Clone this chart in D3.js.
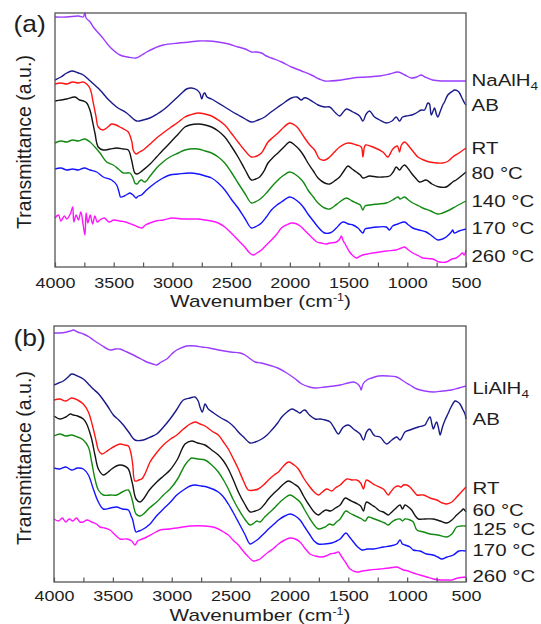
<!DOCTYPE html>
<html><head><meta charset="utf-8">
<script src="https://cdn.jsdelivr.net/npm/d3@7"></script>
<style>
body{margin:0;background:#fff}
svg{display:block}
text,tspan{font-family:"Liberation Sans",Arial,sans-serif;fill:#1e1e1e}
</style>
</head><body>
<svg id="chart" width="541" height="624"></svg>
<script>
// ---------- axis ticks ----------
const tickValues = [4000,3750,3500,3250,3000,2750,2500,2250,2000,1750,1500,1250,1000,750,500];
const tickLabels = [4000,3500,3000,2500,2000,1500,1000,500];

// ---------- panel (a) labels ----------
const labelsA = ["NaAlH4","AB","RT","80 °C","140 °C","170 °C","260 °C"];
// ---------- panel (b) labels ----------
const labelsB = ["LiAlH4","AB","RT","60 °C","125 °C","170 °C","260 °C"];

// ---------- panel (a) spectra: [wavenumber cm-1, transmittance a.u.] ----------
const naalh4A = [[4000,250],[3900,250],[3800,251],[3760,250],[3745,254],[3735,249],[3700,245],[3674,240],[3600,230],[3532,220],[3447,212],[3380,210],[3311,209],[3260,212],[3220,215],[3150,219],[3079,222],[2950,224],[2852,225],[2781,226],[2700,226],[2611,225],[2520,223],[2441,220],[2380,218],[2327,215],[2280,215],[2242,214],[2200,211],[2157,209],[2070,205],[1987,200],[1900,196],[1817,192],[1750,188],[1704,186],[1661,186],[1560,187],[1463,189],[1350,190],[1236,191],[1150,193],[1080,195],[1020,192],[966,189],[920,190],[881,192],[850,190],[785,187],[700,186],[600,186],[500,186]];
const abA = [[4000,187],[3950,190],[3900,194],[3858,196],[3800,194],[3759,192],[3700,186],[3617,177],[3550,168],[3475,160],[3390,154],[3305,146],[3250,147],[3192,149],[3130,153],[3079,157],[3020,163],[2965,169],[2920,174],[2880,178],[2837,179],[2790,177],[2767,174],[2750,168],[2735,173],[2724,174],[2705,170],[2667,168],[2610,164],[2554,160],[2500,156],[2441,152],[2380,148],[2327,145],[2270,147],[2214,150],[2160,155],[2101,160],[2040,165],[1987,169],[1940,170],[1902,167],[1880,169],[1859,169],[1800,165],[1760,162],[1704,160],[1661,160],[1610,154],[1576,151],[1545,155],[1519,158],[1463,155],[1406,151],[1378,146],[1350,153],[1321,156],[1279,150],[1236,147],[1179,144],[1130,146],[1094,150],[1066,146],[1040,150],[1009,151],[960,152],[924,154],[881,157],[853,157],[825,164],[811,163],[796,152],[780,156],[768,159],[750,152],[740,150],[715,157],[698,162],[683,165],[655,172],[613,176],[598,177],[570,176],[555,174],[530,168],[513,164],[500,162]];
const rtA = [[4000,183],[3950,184],[3900,183],[3850,185],[3800,184],[3760,185],[3730,183],[3700,178],[3674,164],[3650,150],[3632,140],[3589,137],[3550,140],[3518,143],[3480,142],[3447,140],[3400,137],[3376,135],[3345,125],[3334,117],[3311,113],[3280,115],[3249,117],[3200,122],[3135,129],[3080,134],[3022,139],[2950,145],[2894,150],[2852,152],[2781,154],[2724,153],[2667,151],[2610,147],[2554,142],[2500,134],[2441,125],[2380,116],[2327,110],[2280,111],[2242,114],[2186,125],[2140,130],[2101,134],[2050,140],[2001,144],[1960,142],[1931,139],[1874,129],[1830,122],[1789,117],[1746,108],[1700,107],[1661,110],[1620,115],[1576,120],[1505,124],[1434,122],[1392,120],[1378,110],[1365,120],[1355,122],[1293,120],[1208,115],[1166,110],[1123,118],[1085,121],[1066,115],[1050,122],[1023,125],[981,120],[940,114],[910,110],[860,107],[811,105],[750,104],[698,104],[650,106],[613,110],[560,114],[500,119]];
const t80A = [[4000,166],[3950,167],[3900,168],[3830,170],[3790,167],[3759,166],[3730,164],[3700,156],[3688,150],[3660,134],[3632,120],[3589,117],[3530,118],[3475,119],[3420,118],[3376,117],[3348,107],[3320,94],[3300,93],[3270,95],[3249,97],[3190,103],[3135,110],[3080,117],[3022,124],[2950,133],[2894,140],[2852,142],[2781,143],[2720,142],[2667,140],[2610,136],[2554,130],[2500,121],[2441,110],[2380,97],[2327,87],[2290,88],[2257,90],[2220,96],[2186,104],[2140,110],[2101,114],[2050,120],[2001,125],[1960,122],[1916,117],[1880,111],[1846,104],[1800,96],[1760,89],[1704,84],[1661,83],[1620,86],[1576,90],[1540,96],[1505,101],[1470,98],[1434,95],[1400,92],[1378,89],[1321,91],[1260,90],[1208,90],[1151,91],[1120,95],[1094,100],[1066,97],[1045,100],[1023,102],[990,98],[966,94],[930,89],[896,85],[839,87],[790,83],[726,80],[669,80],[613,85],[584,87],[540,91],[500,95]];
const t140A = [[4000,124],[3950,126],[3900,125],[3850,127],[3800,126],[3745,128],[3702,125],[3660,120],[3617,114],[3560,105],[3504,102],[3460,98],[3419,94],[3362,94],[3335,89],[3320,84],[3300,83],[3280,86],[3263,87],[3235,85],[3190,91],[3135,99],[3080,105],[3022,110],[2950,114],[2894,117],[2781,118],[2720,116],[2667,114],[2610,110],[2554,104],[2500,95],[2441,84],[2380,73],[2327,64],[2280,66],[2242,69],[2200,74],[2157,80],[2110,86],[2072,90],[2001,95],[1960,93],[1916,89],[1880,84],[1846,77],[1800,70],[1760,64],[1704,59],[1661,58],[1620,61],[1576,65],[1519,69],[1470,66],[1434,64],[1400,62],[1378,57],[1360,61],[1321,62],[1250,63],[1179,64],[1125,67],[1080,70],[1060,68],[1023,70],[990,67],[953,64],[900,61],[868,59],[800,56],[740,53],[700,54],[640,57],[580,61],[500,66]];
const t170A = [[4000,98],[3950,99],[3900,97],[3850,98],[3800,97],[3750,99],[3702,97],[3645,95],[3589,90],[3518,87],[3475,82],[3455,75],[3441,70],[3410,71],[3380,73],[3362,74],[3335,72],[3311,69],[3290,71],[3263,72],[3220,77],[3180,81],[3135,85],[3080,89],[3022,92],[2950,93],[2852,94],[2781,93],[2720,91],[2667,89],[2610,84],[2554,77],[2500,68],[2441,59],[2380,48],[2327,39],[2280,41],[2242,44],[2200,50],[2157,57],[2110,62],[2072,65],[2001,70],[1960,68],[1916,64],[1880,59],[1846,53],[1800,46],[1760,40],[1704,34],[1661,34],[1630,36],[1604,39],[1548,45],[1500,43],[1463,42],[1420,39],[1378,34],[1360,38],[1321,39],[1250,40],[1179,40],[1151,37],[1125,41],[1080,43],[1023,45],[990,42],[953,39],[900,37],[839,35],[790,31],[740,27],[700,28],[669,30],[625,35],[613,37],[600,34],[560,36],[500,38]];
const t260A = [[4000,49],[3970,52],[3950,46],[3920,51],[3900,48],[3870,53],[3849,60],[3840,45],[3820,52],[3800,47],[3780,55],[3760,42],[3745,32],[3735,54],[3720,44],[3700,52],[3680,43],[3660,51],[3640,45],[3617,47],[3580,49],[3540,45],[3500,47],[3450,46],[3400,45],[3376,44],[3330,42],[3291,40],[3260,39],[3230,42],[3192,44],[3140,46],[3079,47],[3000,49],[2920,48],[2852,48],[2781,48],[2720,47],[2667,46],[2610,44],[2554,40],[2500,34],[2441,27],[2384,20],[2350,15],[2313,12],[2280,14],[2242,17],[2200,22],[2157,27],[2110,33],[2072,39],[2030,42],[1987,44],[1940,43],[1902,40],[1860,35],[1817,30],[1770,25],[1732,24],[1690,23],[1661,24],[1604,25],[1575,28],[1562,31],[1545,26],[1534,24],[1491,15],[1460,11],[1434,9],[1400,11],[1378,12],[1293,14],[1179,16],[1094,17],[1050,19],[1023,20],[990,17],[953,14],[900,11],[868,9],[783,8],[726,5],[669,5],[620,8],[584,9],[550,12],[530,14],[515,12],[500,17]];

// ---------- panel (b) spectra ----------
const lialh4B = [[4000,249],[3950,249],[3892,250],[3860,251],[3836,252],[3800,250],[3751,248],[3700,245],[3666,242],[3600,237],[3524,232],[3480,233],[3439,233],[3380,230],[3326,227],[3260,223],[3212,220],[3160,218],[3127,217],[3090,220],[3042,223],[3000,228],[2957,232],[2900,235],[2872,236],[2800,236],[2745,235],[2680,234],[2604,232],[2500,230],[2420,229],[2377,227],[2330,223],[2292,220],[2240,219],[2178,217],[2100,214],[2037,210],[1960,204],[1895,198],[1830,195],[1782,194],[1697,195],[1620,196],[1569,197],[1500,199],[1456,200],[1420,198],[1400,195],[1391,192],[1375,198],[1343,202],[1300,204],[1244,206],[1160,206],[1088,205],[1020,200],[976,197],[917,193],[850,191],[777,190],[700,191],[621,192],[560,194],[500,196]];
const abB = [[4000,197],[3960,199],[3921,201],[3880,205],[3850,208],[3800,206],[3751,203],[3700,197],[3666,193],[3620,188],[3581,182],[3540,175],[3496,167],[3450,162],[3411,157],[3360,149],[3312,142],[3241,142],[3180,145],[3127,148],[3070,155],[3014,163],[2960,172],[2901,182],[2844,184],[2802,185],[2775,181],[2760,175],[2740,170],[2717,178],[2700,175],[2689,173],[2632,168],[2580,164],[2519,160],[2470,155],[2434,150],[2390,145],[2334,139],[2290,140],[2235,143],[2190,147],[2150,152],[2100,159],[2065,165],[2020,170],[1980,173],[1940,171],[1910,169],[1890,171],[1868,172],[1830,167],[1782,163],[1739,163],[1697,162],[1654,160],[1620,154],[1584,148],[1560,152],[1541,155],[1499,157],[1456,153],[1400,148],[1371,142],[1345,150],[1320,153],[1290,148],[1273,146],[1231,145],[1174,138],[1130,142],[1088,145],[1060,142],[1018,150],[976,152],[905,155],[848,157],[834,160],[806,165],[790,158],[777,153],[760,158],[749,160],[730,152],[720,147],[700,155],[678,162],[650,169],[635,173],[593,181],[570,180],[551,178],[525,172],[508,168],[500,163]];
const rtB = [[4000,182],[3950,183],[3900,181],[3850,184],[3800,182],[3751,178],[3708,170],[3666,153],[3640,140],[3623,132],[3595,128],[3560,130],[3524,133],[3480,136],[3439,138],[3400,137],[3368,136],[3345,128],[3331,117],[3312,101],[3280,102],[3255,103],[3220,110],[3184,120],[3130,129],[3071,137],[3010,143],[2957,147],[2900,153],[2844,158],[2800,160],[2760,158],[2717,156],[2660,151],[2604,147],[2560,140],[2519,133],[2480,124],[2434,113],[2390,101],[2349,92],[2300,92],[2264,93],[2220,97],[2178,102],[2130,107],[2093,110],[2050,116],[2008,120],[1960,117],[1924,113],[1880,104],[1839,97],[1790,90],[1754,87],[1720,90],[1683,93],[1640,91],[1610,94],[1569,97],[1513,103],[1470,102],[1428,102],[1395,99],[1371,93],[1355,100],[1343,102],[1300,99],[1273,97],[1202,93],[1160,87],[1140,90],[1103,95],[1074,96],[1050,95],[1032,97],[1003,97],[976,95],[940,90],[917,87],[862,87],[806,84],[749,82],[700,79],[664,78],[620,80],[579,85],[540,90],[500,95]];
const t60B = [[4000,166],[3950,163],[3900,165],[3860,168],[3836,167],[3800,166],[3751,163],[3722,158],[3700,151],[3680,143],[3652,127],[3623,113],[3581,107],[3540,110],[3510,113],[3470,116],[3439,117],[3400,116],[3368,113],[3345,104],[3331,97],[3303,83],[3269,80],[3240,83],[3190,92],[3127,100],[3070,106],[3014,112],[2950,123],[2887,138],[2830,141],[2780,139],[2717,137],[2660,132],[2604,127],[2560,121],[2519,113],[2480,103],[2434,90],[2380,78],[2334,70],[2290,71],[2249,73],[2210,78],[2178,83],[2130,89],[2093,93],[2050,98],[2008,101],[1960,98],[1924,95],[1880,86],[1839,78],[1790,70],[1754,67],[1720,70],[1690,72],[1650,71],[1610,74],[1569,77],[1527,84],[1490,82],[1456,80],[1420,78],[1395,76],[1371,71],[1355,78],[1343,80],[1300,77],[1273,75],[1231,71],[1202,70],[1160,67],[1140,69],[1103,73],[1060,77],[1040,73],[1018,77],[990,75],[962,72],[930,66],[905,63],[850,63],[777,63],[720,61],[664,59],[620,62],[579,67],[540,71],[522,73],[500,70]];
const t125B = [[4000,146],[3950,148],[3900,146],[3850,147],[3800,145],[3751,142],[3708,135],[3680,120],[3652,103],[3623,92],[3581,87],[3520,87],[3468,87],[3420,90],[3368,92],[3345,86],[3331,80],[3303,68],[3269,66],[3240,68],[3190,74],[3127,80],[3070,87],[3014,93],[2950,103],[2887,117],[2844,123],[2830,124],[2780,123],[2717,122],[2660,117],[2604,110],[2560,102],[2519,93],[2480,83],[2434,73],[2380,63],[2334,57],[2300,59],[2277,61],[2249,60],[2210,65],[2164,70],[2120,75],[2079,80],[2040,84],[1994,87],[1950,84],[1910,80],[1870,72],[1825,63],[1790,57],[1754,53],[1697,55],[1660,58],[1630,57],[1600,60],[1569,63],[1520,71],[1490,69],[1456,67],[1420,65],[1385,63],[1357,61],[1330,65],[1300,64],[1231,61],[1190,59],[1160,57],[1130,60],[1103,62],[1060,63],[1040,61],[1018,63],[976,62],[948,60],[917,52],[860,50],[806,48],[740,47],[664,45],[620,48],[579,55],[540,56],[500,56]];
const t170B = [[4000,114],[3950,113],[3900,115],[3850,112],[3800,114],[3751,113],[3708,107],[3666,93],[3623,80],[3581,73],[3520,74],[3468,75],[3420,73],[3368,72],[3345,66],[3331,62],[3303,50],[3280,51],[3255,52],[3184,58],[3130,66],[3071,73],[3010,80],[2957,87],[2900,92],[2844,96],[2802,97],[2750,96],[2700,95],[2604,90],[2560,85],[2519,78],[2480,70],[2434,60],[2380,48],[2334,38],[2300,40],[2264,43],[2220,48],[2178,53],[2130,58],[2093,62],[2040,66],[1994,68],[1950,66],[1910,62],[1870,55],[1825,47],[1790,41],[1754,38],[1700,38],[1640,39],[1600,41],[1569,43],[1520,49],[1490,45],[1456,40],[1420,35],[1385,32],[1340,33],[1286,33],[1202,35],[1145,36],[1088,38],[1060,42],[1040,38],[1018,37],[976,35],[948,32],[891,31],[834,28],[780,27],[740,25],[706,23],[660,25],[607,27],[560,31],[500,31]];
const t260B = [[4000,63],[3960,61],[3930,64],[3900,60],[3870,63],[3840,61],[3810,64],[3780,60],[3751,60],[3720,62],[3680,60],[3640,58],[3609,55],[3570,54],[3524,52],[3480,47],[3439,43],[3380,43],[3340,41],[3312,37],[3290,41],[3250,43],[3212,45],[3150,49],[3099,52],[3020,53],[2957,54],[2844,56],[2717,56],[2650,55],[2604,53],[2560,50],[2519,47],[2480,42],[2434,37],[2400,32],[2363,27],[2306,21],[2270,22],[2249,23],[2210,27],[2178,30],[2130,34],[2093,38],[2040,42],[1994,44],[1950,43],[1910,40],[1870,34],[1825,28],[1780,26],[1726,25],[1690,26],[1654,28],[1610,29],[1584,30],[1560,26],[1520,19],[1485,13],[1428,10],[1380,11],[1320,12],[1231,13],[1150,14],[1088,15],[1032,12],[990,11],[948,9],[891,7],[834,5],[777,3],[720,2],[660,2],[621,2],[570,4],[500,5]];

// ---------- colours ----------
const colors = ["#9b3cff","#1a1a8a","#ff1414","#141414","#128a12","#1414ff","#ff14ff"];

// ---------- layout ----------
const svg = d3.select("#chart");
svg.append("rect").attr("width",541).attr("height",624).attr("fill","#fff");

const panels = [
  {tag:"(a)", tagY:31.5, left:55, right:466, top:13, bottom:267, ymax:254, tickDy:21, titleDy:40,
   series:[naalh4A,abA,rtA,t80A,t140A,t170A,t260A], labels:labelsA,
   labelY:[86,111,154,179,207,234,262], labelX:471.5, ytitleY:142},
  {tag:"(b)", tagY:346, left:54, right:466, top:326, bottom:582, ymax:256, tickDy:19, titleDy:38.5,
   series:[lialh4B,abB,rtB,t60B,t125B,t170B,t260B], labels:labelsB,
   labelY:[393.5,424.5,494,516,535,556,582], labelX:472.5, ytitleY:458}
];

function stretchedText(g, x, y, sx, size, anchor){
  return g.append("text")
    .attr("transform",`translate(${x},${y}) scale(${sx},1)`)
    .attr("font-size",size)
    .attr("fill","#1e1e1e")
    .attr("text-anchor",anchor||"start");
}

panels.forEach(p => {
  const x = d3.scaleLinear().domain([4000,500]).range([p.left,p.right]);
  const y = d3.scaleLinear().domain([0,p.ymax]).range([p.bottom,p.top]);
  const g = svg.append("g");

  // curves
  const line = d3.line().x(d=>x(d[0])).y(d=>y(d[1])).curve(d3.curveCatmullRom.alpha(0.5));
  p.series.forEach((s,i)=>{
    g.append("path").datum(s).attr("d",line)
      .attr("fill","none").attr("stroke",colors[i]).attr("stroke-width",1.4)
      .attr("stroke-linejoin","round");
  });

  // bottom axis with inward ticks
  const ax = g.append("g").attr("transform",`translate(0,${p.bottom})`)
    .call(d3.axisBottom(x).tickValues(tickValues).tickSizeInner(-4.5).tickSizeOuter(0)
      .tickFormat(d=> tickLabels.includes(d) ? d : ""));
  ax.select(".domain").remove();
  ax.selectAll(".tick line").attr("stroke","#555").attr("stroke-width",1.2);
  ax.selectAll(".tick text").attr("y",p.tickDy).attr("dy",null)
    .attr("font-size",14.5).attr("font-family","'Liberation Sans',Arial,sans-serif")
    .attr("fill","#1e1e1e").attr("transform","scale(1.24,1)");

  // frame
  g.append("rect").attr("x",p.left).attr("y",p.top)
    .attr("width",p.right-p.left).attr("height",p.bottom-p.top)
    .attr("fill","none").attr("stroke","#555").attr("stroke-width",1.3);

  // x title
  const xt = stretchedText(g,(p.left+p.right)/2,p.bottom+p.titleDy,1.25,16.6,"middle");
  xt.append("tspan").attr("fill","#1e1e1e").text("Wavenumber (cm");
  xt.append("tspan").attr("fill","#1e1e1e").attr("font-size",10).attr("dy",-6).text("-1");
  xt.append("tspan").attr("fill","#1e1e1e").attr("dy",6).text(")");

  // y title
  g.append("text").attr("transform",`translate(31,${p.ytitleY}) rotate(-90)`)
    .attr("text-anchor","middle").attr("font-size",19.5).attr("fill","#1e1e1e")
    .text("Transmittance (a.u.)");

  // panel tag
  stretchedText(g,13.5,p.tagY,1.15,23,"start").text(p.tag);

  // series labels
  p.labels.forEach((lab,i)=>{
    const t = stretchedText(g,p.labelX,p.labelY[i],1.24,16.5,"start");
    if (/H4$/.test(lab)) {
      t.append("tspan").attr("fill","#1e1e1e").text(lab.slice(0,-1));
      t.append("tspan").attr("fill","#1e1e1e").attr("font-size",11).attr("dy",4).text("4");
    } else {
      t.text(lab);
    }
  });
});
</script>
</body></html>
